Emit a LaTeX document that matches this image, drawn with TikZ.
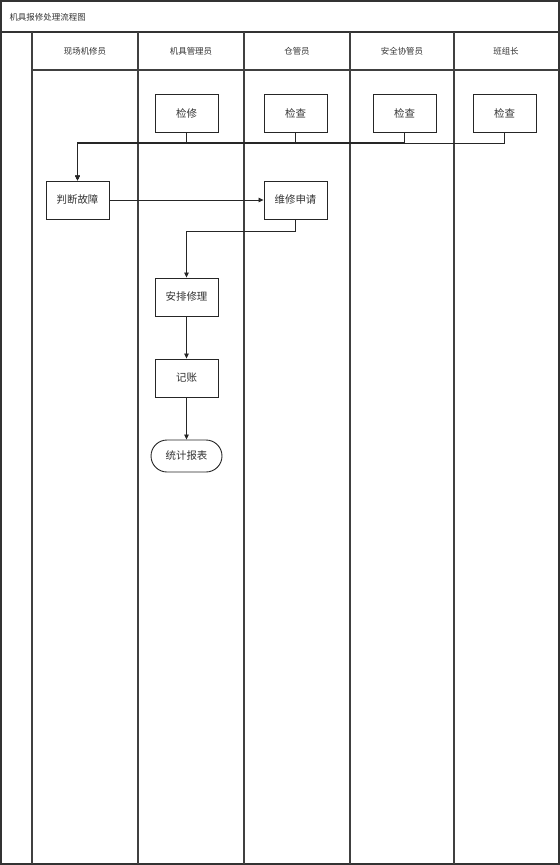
\documentclass[tikz,border=0pt]{standalone}
\usepackage{fontspec}
\setmainfont{Noto Sans CJK SC}
\usetikzlibrary{arrows.meta,shapes.misc}
\begin{document}
\begin{tikzpicture}[x=1bp,y=-1bp,
  frame/.style={draw=black!80,line width=1.3bp},
  lane/.style={draw=black!75,line width=1.2bp},
  hdr/.style={font=\fontsize{8.5}{10}\selectfont,text=black!80},
  box/.style={draw=black!85,line width=0.9bp,minimum width=63bp,minimum height=38bp,inner sep=0pt,font=\fontsize{10.5}{12}\selectfont,text=black!80},
  term/.style={draw=black!85,line width=0.9bp,rounded rectangle,minimum width=71bp,minimum height=32bp,inner sep=0pt,font=\fontsize{10.5}{12}\selectfont,text=black!80},
  conn/.style={draw=black!85,line width=0.8bp},
  tip/.style={-{Triangle[length=5bp,width=4.5bp]}}
]
\useasboundingbox (0,0) rectangle (560,865);
\fill[white] (0,0) rectangle (560,865);
% frame
\draw[frame] (1,1) rectangle (559,864);
\draw[frame] (1,32) -- (559,32);
\draw[lane] (32,70) -- (559,70);
\foreach \x in {32,138,244,350,454} \draw[lane] (\x,32) -- (\x,864);
% title and headers
\node[hdr,anchor=west] (title) at (6,17) {机具报修处理流程图};
\node[hdr] (h1) at (85,51) {现场机修员};
\node[hdr] (h2) at (191,51) {机具管理员};
\node[hdr] (h3) at (297,51) {仓管员};
\node[hdr] (h4) at (402,51) {安全协管员};
\node[hdr] (h5) at (506,51) {班组长};
% nodes
\node[box] (jx) at (186.5,113) {检修};
\node[box] (jc1) at (295.5,113) {检查};
\node[box] (jc2) at (404.5,113) {检查};
\node[box] (jc3) at (504.5,113) {检查};
\node[box] (pd) at (77.5,200) {判断故障};
\node[box] (sq) at (295.5,200) {维修申请};
\node[box] (ap) at (186.5,297) {安排修理};
\node[box] (jz) at (186.5,378) {记账};
\node[term] (tj) at (186.5,456) {统计报表};
% bus coordinates
\coordinate (bus) at (0,143);
\foreach \n in {jx,jc1,jc2,jc3} \draw[conn] (\n.south) -- (\n.south |- bus);
\draw[conn,line width=0.8bp,tip] (jc3.south |- bus) -| (pd.north);
\draw[conn,line width=1.1bp,tip] (jc2.south |- bus) -| (pd.north);
\draw[conn,line width=1.4bp,tip] (jc1.south |- bus) -| (pd.north);
\draw[conn,line width=1.7bp,tip] (jx.south |- bus) -| (pd.north);
% other connectors
\draw[conn,tip] (pd.east) -- (sq.west);
\coordinate (bend) at (0,231);
\draw[conn,tip] (sq.south) -- (sq.south |- bend) -| (ap.north);
\draw[conn,tip] (ap.south) -- (jz.north);
\draw[conn,tip] (jz.south) -- (tj.north);
\end{tikzpicture}
\end{document}
